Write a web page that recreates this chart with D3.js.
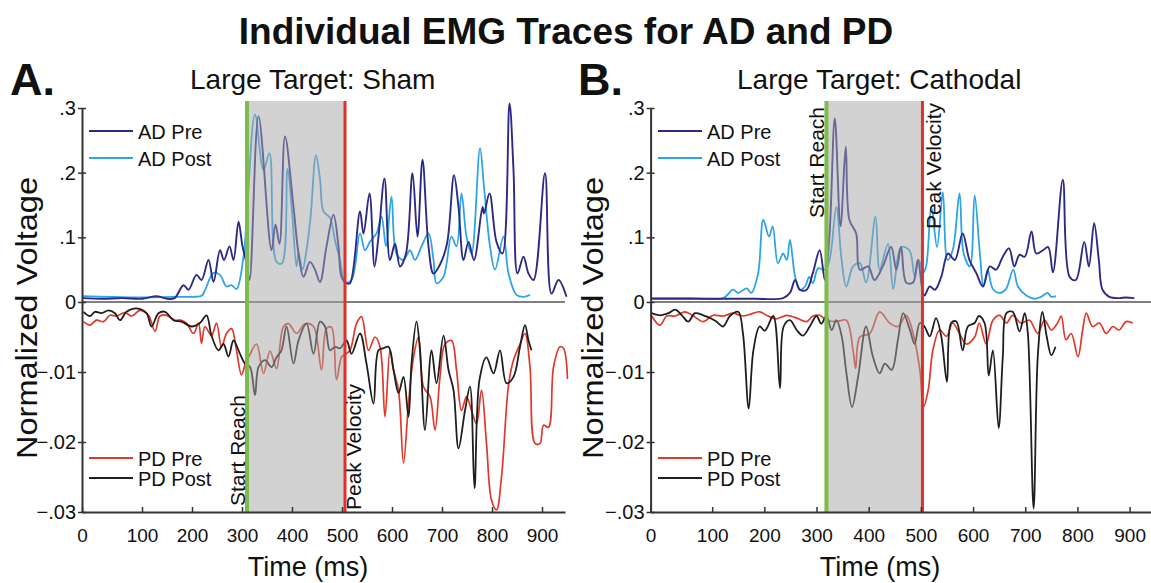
<!DOCTYPE html>
<html>
<head>
<meta charset="utf-8">
<script src="https://cdn.jsdelivr.net/npm/d3@7/dist/d3.min.js"></script>
<style>
  body { margin: 0; background: #fff; }
  text { font-family: "Liberation Sans", Arial, sans-serif; fill: #111; }
</style>
</head>
<body>
<script>
// ---- data: [time ms, normalized voltage] ----
const xTicks = [0, 100, 200, 300, 400, 500, 600, 700, 800, 900];
const yTicksUp = [0, 0.1, 0.2, 0.3];
const yTicksDown = [-0.01, -0.02, -0.03];

// Panel A (Sham)
const adPreA = [[-18,.006],[20,.005],[60,.006],[100,.005],[130,.009],[150,.005],[165,.006],[183,.026],[193,.019],[209,.042],[219,.034],[233,.065],[243,.031],[256,.080],[264,.065],[275,.086],[283,.065],[293,.124],[301,.086],[309,.06],[315,.034],[333,.287],[359,.08],[367,.12],[375,.09],[386,.256],[403,.147],[413,.075],[423,.039],[436,.062],[446,.05],[456,.031],[469,.086],[483,.135],[493,.086],[499,.039],[509,.029],[516,.029],[536,.14],[543,.106],[555,.168],[565,.055],[573,.101],[585,.191],[596,.065],[606,.09],[616,.055],[628,.075],[641,.199],[651,.101],[661,.22],[673,.086],[683,.044],[696,.058],[710,.09],[724,.196],[733,.147],[743,.065],[753,.093],[764,.065],[781,.147],[784,.137],[795,.168],[809,.093],[821,.075],[835,.307],[843,.204],[851,.044],[863,.07],[873,.044],[883,.034],[906,.199],[919,.013],[933,.034],[949,.008]];
const adPostA = [[-18,.009],[40,.008],[100,.007],[160,.008],[200,.008],[220,.01],[227,.02],[243,.045],[256,.042],[269,.024],[279,.026],[289,.02],[303,.07],[309,.125],[326,.29],[343,.204],[355,.23],[369,.062],[380,.06],[391,.206],[400,.14],[409,.055],[413,.075],[421,.05],[429,.08],[437,.13],[448,.227],[456,.19],[463,.14],[476,.13],[486,.095],[496,.065],[506,.031],[519,.034],[536,.106],[546,.08],[556,.093],[569,.106],[579,.132],[588,.086],[599,.163],[609,.075],[623,.065],[636,.08],[646,.065],[659,.086],[673,.106],[683,.065],[689,.029],[703,.039],[719,.101],[729,.086],[739,.168],[749,.101],[759,.075],[776,.238],[784,.178],[796,.086],[806,.05],[823,.101],[833,.044],[849,.011],[863,.008],[876,.011]];
const pdPreA = [[-17,-.0028],[-4,-.0033],[9,-.0026],[23,-.0028],[36,-.0019],[49,-.002],[66,-.0015],[79,-.002],[96,-.0012],[113,-.0019],[126,-.0042],[136,-.002],[149,-.0019],[166,-.0026],[179,-.0026],[189,-.003],[203,-.0045],[213,-.003],[219,-.0059],[226,-.0035],[239,-.0048],[249,-.003],[259,-.0064],[269,-.0045],[279,-.0038],[289,-.0069],[299,-.0104],[309,-.0083],[313,-.0079],[329,-.006],[343,-.0102],[356,-.007],[369,-.0095],[383,-.0035],[393,-.0031],[409,-.0045],[426,-.0031],[443,-.0035],[459,-.0097],[469,-.0038],[479,-.0036],[489,-.0111],[499,-.0079],[506,-.0075],[516,-.0069],[529,-.0031],[539,-.0021],[553,-.0069],[566,-.005],[576,-.0064],[586,-.0164],[596,-.0069],[603,-.0097],[613,-.0126],[623,-.023],[633,-.0145],[643,-.0079],[653,-.005],[663,-.0121],[676,-.0135],[686,-.0183],[696,-.0107],[706,-.006],[719,-.0055],[729,-.0097],[739,-.0155],[749,-.0135],[759,-.0155],[769,-.0174],[779,-.0126],[789,-.0202],[799,-.0283],[809,-.0297],[819,-.025],[833,-.0119],[843,-.0083],[856,-.006],[866,-.0045],[876,-.0093],[886,-.0202],[896,-.0202],[903,-.0176],[913,-.0179],[923,-.0093],[936,-.0064],[943,-.0066],[951,-.011]];
const pdPostA = [[-17,-.0014],[-4,-.002],[6,-.0014],[19,-.0016],[33,-.0012],[46,-.0016],[56,-.0026],[69,-.0014],[89,-.0009],[109,-.0016],[119,-.0035],[133,-.0016],[146,-.0014],[163,-.0026],[179,-.0028],[199,-.0035],[216,-.003],[229,-.0019],[239,-.0048],[253,-.0069],[263,-.006],[273,-.0078],[283,-.0055],[296,-.0074],[306,-.0088],[316,-.0093],[326,-.0133],[333,-.0093],[346,-.0083],[359,-.0093],[369,-.0079],[379,-.0069],[389,-.0035],[403,-.0088],[413,-.0055],[429,-.0031],[443,-.0074],[456,-.0028],[466,-.0035],[476,-.0069],[486,-.0064],[496,-.0066],[509,-.0055],[519,-.0074],[536,-.0045],[549,-.0088],[563,-.0145],[573,-.0069],[583,-.0066],[593,-.0064],[603,-.0097],[613,-.013],[623,-.0107],[633,-.0164],[639,-.0088],[649,-.0028],[656,-.0069],[666,-.0183],[679,-.0069],[689,-.0116],[703,-.0048],[713,-.0097],[723,-.0126],[733,-.0209],[746,-.0155],[756,-.0121],[765,-.0266],[775,-.0111],[789,-.0079],[803,-.0102],[816,-.0069],[829,-.0116],[843,-.0107],[856,-.0064],[866,-.0033],[873,-.0055],[879,-.0069]];

// Panel B (Cathodal)
const adPreB = [[-16,.005],[50,.005],[120,.005],[180,.005],[236,.006],[249,.014],[259,.034],[268,.019],[281,.019],[293,.045],[306,.08],[316,.034],[325,.106],[335,.284],[346,.117],[356,.24],[363,.127],[376,.106],[383,.05],[399,.055],[411,.034],[427,.055],[443,.085],[453,.05],[462,.085],[472,.03],[485,.03],[494,.065],[504,.014],[507,.01],[517,.024],[527,.019],[539,.039],[552,.075],[565,.065],[580,.106],[593,.065],[606,.045],[619,.024],[632,.055],[644,.05],[657,.07],[669,.083],[679,.055],[689,.073],[699,.07],[712,.109],[721,.075],[734,.08],[744,.085],[753,.046],[772,.189],[785,.039],[797,.034],[813,.093],[822,.055],[832,.122],[841,.065],[848,.019],[861,.008],[880,.006],[893,.007],[909,.006]];
const adPostB = [[-16,.006],[60,.006],[121,.006],[140,.019],[150,.014],[166,.021],[175,.014],[188,.044],[198,.127],[209,.101],[216,.117],[226,.06],[236,.075],[243,.065],[249,.096],[259,.039],[268,.019],[278,.024],[286,.039],[293,.029],[303,.052],[316,.05],[325,.065],[338,.147],[348,.065],[357,.024],[370,.055],[383,.06],[395,.03],[413,.132],[421,.05],[437,.09],[447,.02],[462,.085],[478,.08],[488,.04],[496,.065],[504,.045],[510,.055],[520,.147],[531,.085],[542,.17],[551,.065],[561,.08],[574,.168],[582,.075],[594,.055],[603,.165],[613,.075],[620,.024],[628,.05],[638,.02],[651,.014],[663,.02],[677,.05],[686,.024],[702,.01],[718,.005],[730,.008],[743,.014],[750,.008],[759,.009]];
const pdPreB = [[-16,-.002],[0,-.0033],[13,-.002],[29,-.002],[48,-.0014],[64,-.002],[83,-.0028],[102,-.0019],[121,-.002],[140,-.0016],[159,-.002],[179,-.0016],[191,-.0014],[207,-.002],[223,-.0024],[243,-.0019],[262,-.0023],[281,-.0028],[293,-.002],[306,-.0019],[319,-.0026],[338,-.0028],[357,-.0026],[370,-.0069],[375,-.0095],[383,-.005],[402,-.0045],[421,-.0014],[440,-.003],[456,-.0035],[472,-.0019],[485,-.0045],[498,-.0097],[505,-.015],[514,-.0126],[523,-.0069],[536,-.004],[549,-.0049],[561,-.003],[574,-.0045],[587,-.006],[603,-.005],[612,-.003],[625,-.006],[638,-.0026],[651,-.0019],[664,-.003],[676,-.0019],[692,-.003],[708,-.0026],[724,-.0045],[737,-.0026],[750,-.004],[762,-.003],[769,-.002],[778,-.0054],[788,-.0045],[801,-.0078],[810,-.004],[817,-.0016],[829,-.0035],[842,-.003],[855,-.0045],[868,-.0035],[880,-.004],[893,-.0028],[906,-.003]];
const pdPostB = [[-16,-.0016],[0,-.0019],[16,-.0016],[29,-.0011],[42,-.0019],[54,-.0028],[67,-.0016],[83,-.0019],[99,-.0024],[108,-.0028],[121,-.0035],[134,-.002],[150,-.0014],[159,-.0045],[170,-.0152],[179,-.0069],[191,-.0035],[201,-.0041],[217,-.002],[230,-.0123],[237,-.0035],[249,-.0026],[262,-.004],[274,-.0048],[287,-.0035],[300,-.002],[309,-.0031],[319,-.002],[329,-.004],[338,-.0026],[348,-.0048],[357,-.01],[368,-.015],[380,-.0105],[395,-.0035],[408,-.0078],[421,-.0102],[431,-.0088],[444,-.0097],[456,-.0054],[466,-.0016],[479,-.004],[488,-.006],[498,-.003],[507,-.0035],[517,-.0049],[529,-.0023],[539,-.0049],[550,-.0114],[558,-.003],[568,-.0028],[580,-.0069],[590,-.0035],[603,-.003],[611,-.002],[622,-.003],[630,-.0105],[638,-.0069],[649,-.018],[657,-.0078],[664,-.0016],[676,-.0014],[689,-.0042],[699,-.0016],[705,-.0045],[716,-.0295],[724,-.0078],[733,-.0014],[741,-.0049],[750,-.0076],[758,-.0064]];

// event markers (ms)
const startReachA = 310, peakVelA = 506;
const startReachB = 319, peakVelB = 503;

const colors = { adPre: '#2d2a86', adPost: '#2fa4e4', pdPre: '#e0392b', pdPost: '#1e1e1e' };

const svg = d3.select('body').append('svg').attr('width', 1151).attr('height', 583);

svg.append('text').attr('x', 566).attr('y', 44).attr('text-anchor', 'middle')
  .style('font-size', '37px').style('font-weight', 'bold')
  .text('Individual EMG Traces for AD and PD');

function drawPanel(p) {
  const x = d3.scaleLinear().domain(p.tDomain).range(p.xRange);
  const yUp = d3.scaleLinear().domain([0, 0.3]).range([302, 108]);
  const yDown = d3.scaleLinear().domain([0, -0.03]).range([302, 512]);
  const g = svg.append('g');

  // letter + title
  g.append('text').attr('x', p.letterX).attr('y', 95)
    .style('font-size', '45px').style('font-weight', 'bold').text(p.letter);
  g.append('text').attr('x', p.titleX).attr('y', 89)
    .style('font-size', '28px').text(p.title);

  // zero line
  g.append('line').attr('x1', p.xRange[0]).attr('x2', p.xRange[1])
    .attr('y1', yUp(0)).attr('y2', yUp(0))
    .attr('stroke', '#555').attr('stroke-width', 1.5);

  const lineUp = d3.line().x(d => x(d[0])).y(d => yUp(d[1])).curve(d3.curveCatmullRom.alpha(0.5));
  const lineDown = d3.line().x(d => x(d[0])).y(d => yDown(d[1])).curve(d3.curveCatmullRom.alpha(0.5));

  const traces = [
    { data: p.pdPre, gen: lineDown, color: colors.pdPre, w: 1.7 },
    { data: p.pdPost, gen: lineDown, color: colors.pdPost, w: 1.8 },
    { data: p.adPost, gen: lineUp, color: colors.adPost, w: 1.8 },
    { data: p.adPre, gen: lineUp, color: colors.adPre, w: 1.9 }
  ];
  traces.forEach(s => {
    g.append('path').datum(s.data).attr('d', s.gen)
      .attr('fill', 'none').attr('stroke', s.color).attr('stroke-width', s.w)
      .attr('stroke-linejoin', 'round');
  });

  // shaded reach window
  const x1 = x(p.start), x2 = x(p.peak);
  g.append('rect').attr('x', x1).attr('y', 101).attr('width', x2 - x1).attr('height', yDown(-0.03) - 101)
    .attr('fill', '#a6a6a6').attr('opacity', 0.5);
  g.append('line').attr('x1', x1).attr('x2', x1).attr('y1', 101).attr('y2', yDown(-0.03))
    .attr('stroke', '#7dbb4a').attr('stroke-width', 4);
  g.append('line').attr('x1', x2).attr('x2', x2).attr('y1', 101).attr('y2', yDown(-0.03))
    .attr('stroke', '#e0302a').attr('stroke-width', 3);

  // event labels
  const sr = p.labelsTop
    ? { x: x1 - 2, y: 107, anchor: 'end' }
    : { x: x1 - 2, y: 506, anchor: 'start' };
  const pv = p.labelsTop
    ? { x: x2 + 19, y: 103, anchor: 'end' }
    : { x: x2 + 16, y: 510, anchor: 'start' };
  g.append('text').attr('transform', `translate(${sr.x},${sr.y}) rotate(-90)`)
    .attr('text-anchor', sr.anchor).style('font-size', '21px').text('Start Reach');
  g.append('text').attr('transform', `translate(${pv.x},${pv.y}) rotate(-90)`)
    .attr('text-anchor', pv.anchor).style('font-size', '21px').text('Peak Velocity');

  // axes
  const fmtUp = d => d === 0 ? '0' : d3.format('.1f')(d).replace('0.', '.');
  const fmtDown = d => d3.format('.2f')(d).replace('0.', '.');
  const axUp = g.append('g').attr('transform', `translate(${p.xRange[0]},0)`)
    .call(d3.axisLeft(yUp).tickValues(yTicksUp).tickFormat(fmtUp).tickSizeInner(4).tickSizeOuter(0).tickPadding(2));
  const axDown = g.append('g').attr('transform', `translate(${p.xRange[0]},0)`)
    .call(d3.axisLeft(yDown).tickValues(yTicksDown).tickFormat(fmtDown).tickSizeInner(4).tickSizeOuter(0).tickPadding(2));
  [axUp, axDown].forEach(a => {
    a.selectAll('.tick line').attr('x2', 4).attr('x1', -4).attr('stroke', '#333').attr('stroke-width', 1.5);
    a.select('.domain').attr('stroke', '#333').attr('stroke-width', 2);
    a.selectAll('text').style('font-size', '20px').attr('fill', '#111')
      .style('font-family', '"Liberation Sans", Arial, sans-serif');
  });
  // the 0 tick sits at the axis corner in the original
  const tickVals = [p.tDomain[0]].concat(xTicks.slice(1));
  const axX = g.append('g').attr('transform', `translate(0,${yDown(-0.03)})`)
    .call(d3.axisBottom(x).tickValues(tickVals).tickFormat(d => d < 0 ? '0' : d)
      .tickSizeInner(-5).tickSizeOuter(0).tickPadding(17));
  axX.selectAll('.tick line').attr('y2', -5).attr('y1', 1).attr('stroke', '#333').attr('stroke-width', 1.5);
  axX.select('.domain').attr('stroke', '#333').attr('stroke-width', 2);
  axX.selectAll('text').style('font-size', '19px').attr('fill', '#111')
    .style('font-family', '"Liberation Sans", Arial, sans-serif');

  // axis titles
  g.append('text').attr('transform', `translate(${p.yLabelX},318) rotate(-90)`)
    .attr('text-anchor', 'middle').style('font-size', '30px')
    .attr('textLength', 282).attr('lengthAdjust', 'spacingAndGlyphs').text('Normalized Voltage');
  g.append('text').attr('x', p.xLabelX).attr('y', 576)
    .attr('text-anchor', 'middle').style('font-size', '27px').text('Time (ms)');

  // legends
  const lx = p.legendX;
  const legend = [
    { label: 'AD Pre', color: colors.adPre, y: 131 },
    { label: 'AD Post', color: colors.adPost, y: 158 },
    { label: 'PD Pre', color: colors.pdPre, y: 458 },
    { label: 'PD Post', color: colors.pdPost, y: 478 }
  ];
  legend.forEach(l => {
    g.append('line').attr('x1', lx).attr('x2', lx + 44).attr('y1', l.y).attr('y2', l.y)
      .attr('stroke', l.color).attr('stroke-width', 1.8);
    g.append('text').attr('x', lx + 49).attr('y', l.y + 7.5)
      .style('font-size', '20px').text(l.label);
  });
}

drawPanel({
  letter: 'A.', letterX: 10, title: 'Large Target: Sham', titleX: 190,
  tDomain: [-20, 946], xRange: [82, 565],
  adPre: adPreA, adPost: adPostA, pdPre: pdPreA, pdPost: pdPostA,
  start: startReachA, peak: peakVelA, labelsTop: false,
  yLabelX: 37, xLabelX: 308, legendX: 89
});
drawPanel({
  letter: 'B.', letterX: 578, title: 'Large Target: Cathodal', titleX: 737,
  tDomain: [-18, 941], xRange: [650.6, 1151],
  adPre: adPreB, adPost: adPostB, pdPre: pdPreB, pdPost: pdPostB,
  start: startReachB, peak: peakVelB, labelsTop: true,
  yLabelX: 603, xLabelX: 880, legendX: 658
});
</script>
</body>
</html>
